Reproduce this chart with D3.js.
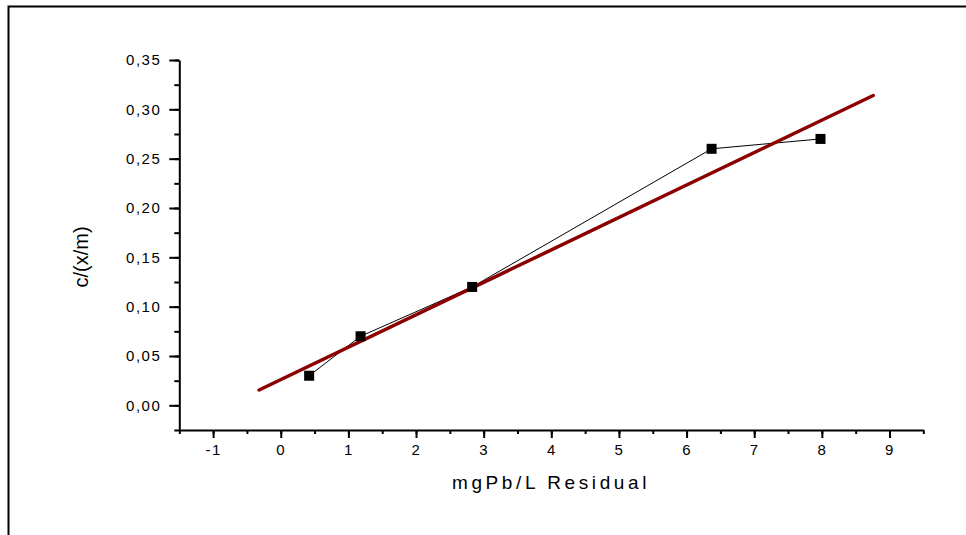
<!DOCTYPE html>
<html>
<head>
<meta charset="utf-8">
<script src="https://cdn.jsdelivr.net/npm/d3@7"></script>
<style>
body{margin:0;background:#fff}
text{font-family:"Liberation Sans",Arial,sans-serif}
</style>
</head>
<body>
<div id="chart"></div>
<script>
var width = 966
var height = 535

// data
var xValues = [0.42, 1.18, 2.83, 6.37, 7.98]
var yValues = [0.03, 0.07, 0.12, 0.26, 0.27]
var fitX = [-0.32, 8.76]
var fitY = [0.0155, 0.314]
var xTicks = [-1, 0, 1, 2, 3, 4, 5, 6, 7, 8, 9]
var yTicks = [0, 0.05, 0.10, 0.15, 0.20, 0.25, 0.30, 0.35]

var svg = d3.select("#chart").append("svg")
.attr("width",width)
.attr("height",height)

// outer frame
svg.append("rect")
.attr("x",8.5).attr("y",6.5)
.attr("width",width+10).attr("height",height+10)
.style("fill","none").style("stroke","#000").style("stroke-width",2)

const x = d3.scaleLinear()
.domain([-1.5,9.5])
.range([179.3,923.3])

const y = d3.scaleLinear()
.domain([-0.025,0.35])
.range([430,60])

var fmt = (d)=>d3.format(".2f")(d).replace(".",",")

// minor ticks
var xMinor = d3.range(-1.5,9.51,0.5)
var yMinor = d3.range(-0.025,0.351,0.025)

svg.append("g")
.attr("transform","translate(0,430)")
.call(d3.axisBottom(x).tickValues(xMinor).tickSize(4).tickFormat(""))
.call(g=>g.select(".domain").remove())

svg.append("g")
.attr("transform","translate(179.3,0)")
.call(d3.axisLeft(y).tickValues(yMinor).tickSize(5).tickFormat(""))
.call(g=>g.select(".domain").remove())

var xAxis = svg.append("g")
.attr("transform","translate(0,430)")
.call(d3.axisBottom(x).tickValues(xTicks).tickFormat(d=>String(d)).tickSizeInner(8).tickSizeOuter(0).tickPadding(6))

var yAxis = svg.append("g")
.attr("transform","translate(179.3,0)")
.call(d3.axisLeft(y).tickValues(yTicks).tickFormat(fmt).tickSizeInner(10).tickSizeOuter(0).tickPadding(8))

svg.selectAll(".tick line").style("stroke","#000").style("stroke-width",2)
svg.selectAll(".domain").style("stroke","#000").style("stroke-width",2)
svg.selectAll(".tick text")
.style("font-size","15px")
.style("letter-spacing","1.5px")
.style("fill","#000")

// axis titles
svg.append("text")
.attr("transform","translate(88,257)rotate(270)")
.attr("text-anchor","middle")
.style("font-size","20px")
.text("c/(x/m)")

svg.append("text")
.attr("x",551)
.attr("y",489)
.attr("text-anchor","middle")
.style("font-size","19px")
.style("letter-spacing","3.6px")
.text("mgPb/L Residual")

var pts = xValues.map((d,i)=>[d,yValues[i]])

// connecting line
svg.append("path")
.datum(pts)
.attr("d",d3.line().x(d=>x(d[0])).y(d=>y(d[1])))
.style("fill","none")
.style("stroke","#000")
.style("stroke-width",1)

// fit line
svg.append("path")
.datum(fitX.map((d,i)=>[d,fitY[i]]))
.attr("d",d3.line().x(d=>x(d[0])).y(d=>y(d[1])))
.style("fill","none")
.style("stroke","#8b0000")
.style("stroke-width",3.5)
.style("stroke-linecap","round")

svg.selectAll("rect.pt")
.data(pts)
.enter()
.append("rect")
.attr("class","pt")
.attr("x",d=>x(d[0])-5)
.attr("y",d=>y(d[1])-5)
.attr("width",10)
.attr("height",10)
.style("fill","#000")
</script>
</body>
</html>
